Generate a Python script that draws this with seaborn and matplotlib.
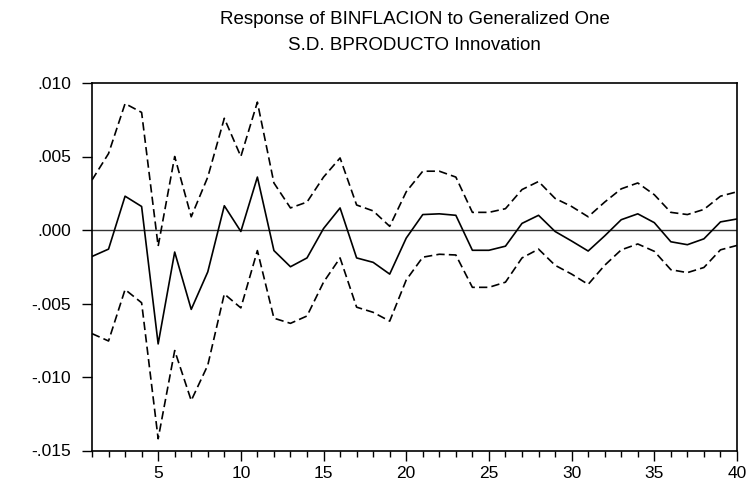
import numpy as np
import pandas as pd
import matplotlib
matplotlib.use("Agg")
import matplotlib.pyplot as plt
from matplotlib.ticker import MultipleLocator
import seaborn as sns

# Impulse response horizon
periods = list(range(1, 41))

# Generalized impulse response (x 1e-3) and +/- 2 S.E. bands
response = [-1.8, -1.3, 2.3, 1.6, -7.75, -1.5, -5.4, -2.85, 1.65, -0.1,
            3.6, -1.4, -2.5, -1.9, 0.1, 1.5, -1.9, -2.2, -3.0, -0.55,
            1.05, 1.1, 1.0, -1.38, -1.38, -1.1, 0.45, 1.0, -0.1, -0.75,
            -1.43, -0.4, 0.7, 1.1, 0.5, -0.8, -1.0, -0.6, 0.55, 0.75]
upper = [3.4, 5.2, 8.6, 8.0, -1.1, 5.0, 0.9, 3.6, 7.6, 5.0,
         8.7, 3.2, 1.5, 1.9, 3.6, 4.9, 1.7, 1.3, 0.25, 2.6,
         4.0, 4.0, 3.6, 1.2, 1.2, 1.45, 2.75, 3.3, 2.15, 1.6,
         0.9, 1.9, 2.8, 3.2, 2.4, 1.2, 1.05, 1.4, 2.3, 2.6]
lower = [-7.05, -7.55, -4.05, -4.95, -14.2, -8.2, -11.6, -9.2, -4.35, -5.3,
         -1.4, -6.0, -6.35, -5.85, -3.55, -1.9, -5.25, -5.6, -6.2, -3.4,
         -1.85, -1.65, -1.7, -3.9, -3.9, -3.55, -1.9, -1.3, -2.4, -3.0,
         -3.7, -2.4, -1.35, -0.95, -1.45, -2.7, -2.9, -2.55, -1.35, -1.05]

y_ticks = [-0.015, -0.010, -0.005, 0.000, 0.005, 0.010]
y_tick_labels = ["-.015", "-.010", "-.005", ".000", ".005", ".010"]
x_ticks = [5, 10, 15, 20, 25, 30, 35, 40]
x_tick_labels = ["5", "10", "15", "20", "25", "30", "35", "40"]

title = "Response of BINFLACION to Generalized One\nS.D. BPRODUCTO Innovation"

df = pd.DataFrame({
    "period": periods,
    "response": np.array(response) * 1e-3,
    "upper": np.array(upper) * 1e-3,
    "lower": np.array(lower) * 1e-3,
})

sns.set_style("ticks")
plt.rcParams["font.family"] = ["Liberation Sans", "DejaVu Sans"]

fig = plt.figure(figsize=(7.52, 4.87), dpi=100)
ax = fig.add_axes([92 / 752, 1 - 450.5 / 487, (737 - 92) / 752, (450.5 - 83) / 487])

ax.axhline(0, color="#333333", lw=1.0, zorder=1)
sns.lineplot(data=df, x="period", y="upper", ax=ax, color="black", lw=1.2,
             zorder=2).lines[-1].set_dashes([5, 2.5])
sns.lineplot(data=df, x="period", y="lower", ax=ax, color="black", lw=1.2,
             zorder=2).lines[-1].set_dashes([5, 2.5])
sns.lineplot(data=df, x="period", y="response", ax=ax, color="black", lw=1.2,
             zorder=3)

ax.set_xlim(1, 40)
ax.set_ylim(-0.015, 0.010)
ax.set_xticks(x_ticks)
ax.set_xticklabels(x_tick_labels)
ax.xaxis.set_minor_locator(MultipleLocator(1))
ax.set_yticks(y_ticks)
ax.set_yticklabels(y_tick_labels)
ax.set_xlabel("")
ax.set_ylabel("")

for side in ["left", "right", "top", "bottom"]:
    ax.spines[side].set_visible(True)
    ax.spines[side].set_color("black")
    ax.spines[side].set_linewidth(1.2)

ax.tick_params(axis="both", which="major", direction="out", length=7,
               width=1.0, color="black", labelsize=12.5, labelcolor="black")
ax.tick_params(axis="x", which="minor", direction="out", length=4.5,
               width=1.0, color="black")
ax.tick_params(axis="x", which="major", pad=4)
ax.tick_params(axis="y", which="major", pad=8)

fig.text(414.5 / 752, 1 - 11 / 487, title, ha="center", va="top",
         fontsize=13.5, linespacing=1.7, color="black")

fig.savefig("out.png", dpi=100, facecolor="white")
